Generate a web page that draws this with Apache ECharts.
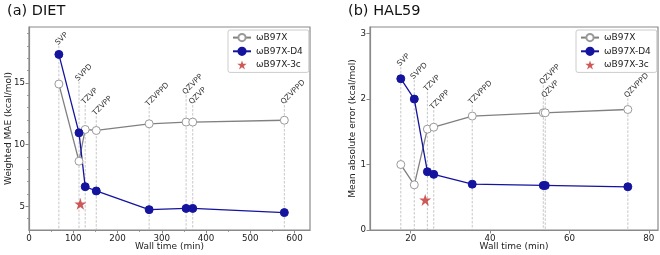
<!DOCTYPE html>
<html>
<head>
<meta charset="utf-8">
<script src="https://cdn.jsdelivr.net/npm/echarts@6/dist/echarts.min.js"></script>
<style>html,body{margin:0;padding:0;background:#fff}#c{width:660px;height:255px}</style>
</head>
<body>
<div id="c"></div>
<script>
// ---- data ----
const basisNames = ['SVP','SVPD','TZVP','TZVPP','TZVPPD','QZVPP','QZVP','QZVPPD'];
const seriesNames = ['ωB97X','ωB97X-D4','ωB97X-3c'];

// (a) DIET
const dietTime   = [67.5, 113, 127, 152, 271.5, 355, 370, 577];
const dietWB97X  = [14.9, 8.65, 11.22, 11.14, 11.68, 11.82, 11.82, 11.97];
const dietD4     = [17.3, 10.95, 6.59, 6.24, 4.73, 4.83, 4.83, 4.49];
const diet3c     = [[116, 5.2]];
const dietLabelY = [18.0, 15.1, 13.2, 12.3, 13.05, 14.0, 13.2, 13.2];
const dietXTicks = [0, 100, 200, 300, 400, 500, 600];
const dietXMinor = [50, 150, 250, 350, 450, 550];
const dietYTicks = [5, 10, 15];
const dietYMinor = [4, 6, 7, 8, 9, 11, 12, 13, 14, 16, 17, 18, 19];

// (b) HAL59
const halTime    = [17.5, 20.9, 24.2, 25.8, 35.5, 53.4, 53.9, 74.7];
const halWB97X   = [1.0, 0.69, 1.54, 1.57, 1.74, 1.79, 1.79, 1.84];
const halD4      = [2.31, 2.0, 0.89, 0.85, 0.70, 0.68, 0.68, 0.66];
const hal3c      = [[23.65, 0.46]];
const halLabelY  = [2.49, 2.29, 2.11, 1.83, 1.91, 2.21, 2.01, 2.01];
const halXTicks  = [20, 40, 60, 80];
const halYTicks  = [0, 1, 2, 3];

// ---- style ----
const FONT = 'DejaVu Sans';
const SPINE = '#8a8a8a';
const GRAY = '#808080';
const BLUE = '#14149e';
const RED = '#c0302e';
const STAR = 'path://M50,0 L61.2,34.5 L97.6,34.5 L68.2,55.9 L79.4,90.5 L50,69.1 L20.6,90.5 L31.8,55.9 L2.4,34.5 L38.8,34.5 Z';

const ext = [
  {xmin: 0, xmax: 635, ymin: 3.08, ymax: 19.52},
  {xmin: 9.74, xmax: 82.3, ymin: 0, ymax: 3.1},
  {xmin: 0, xmax: 635, ymin: 3.08, ymax: 19.52}
];
const boxA = {left: 29, top: 27, width: 281, height: 203};
const boxB = {left: 370, top: 27, width: 288, height: 203};

function pairs(xs, ys) { return xs.map((x, i) => [x, ys[i]]); }

const tickLabelStyle = {fontFamily: FONT, fontSize: 8.7, color: '#222'};
const nameStyle = {fontFamily: FONT, fontSize: 9, color: '#222'};

function mainAxis(g, ticks, name, gap, isX) {
  return {
    type: 'value', gridIndex: g,
    min: isX ? ext[g].xmin : ext[g].ymin, max: isX ? ext[g].xmax : ext[g].ymax,
    position: isX ? 'bottom' : 'left',
    axisLine: {show: true, onZero: false, lineStyle: {color: SPINE, width: 1.2}},
    axisTick: {show: true, length: 3.5, customValues: ticks, lineStyle: {color: SPINE, width: 1}},
    axisLabel: Object.assign({customValues: ticks, showMinLabel: true, showMaxLabel: true,
                              hideOverlap: false, margin: isX ? 4.5 : 4}, tickLabelStyle),
    splitLine: {show: false},
    name: name, nameLocation: 'middle', nameGap: gap, nameMoveOverlap: false,
    nameTextStyle: nameStyle
  };
}
function minorAxis(g, ticks, isX) {
  return {
    type: 'value', gridIndex: g,
    min: isX ? ext[g].xmin : ext[g].ymin, max: isX ? ext[g].xmax : ext[g].ymax,
    position: isX ? 'bottom' : 'left',
    axisLine: {show: false},
    axisTick: {show: true, length: 2, customValues: ticks, lineStyle: {color: SPINE, width: 0.8}},
    axisLabel: {show: false},
    splitLine: {show: false}
  };
}

function annotSeries(xi, yi, times, labelY) {
  const g = xi === 0 ? 0 : 1;
  return {
    type: 'custom', xAxisIndex: xi, yAxisIndex: yi, z: 1, silent: true,
    data: times.map((t, i) => [t, labelY[i], i]),
    renderItem: function (params, api) {
      const x = api.value(0), ly = api.value(1), idx = api.value(2);
      const top = api.coord([x, ly]);
      const bot = api.coord([x, ext[g].ymin]);
      return {
        type: 'group',
        children: [
          {type: 'line', shape: {x1: top[0], y1: top[1], x2: bot[0], y2: bot[1]},
           style: {stroke: '#b8b8b8', lineWidth: 0.8, lineDash: [2.5, 1.5]}},
          {type: 'text', x: top[0] + 0.5, y: top[1] + 1, rotation: Math.PI / 4,
           style: {text: basisNames[idx], x: 0, y: 0, align: 'left', verticalAlign: 'bottom',
                   fontFamily: FONT, fontSize: 7.5, fill: '#333'}}
        ]
      };
    }
  };
}

function lineSeries(name, xi, yi, data, isD4) {
  return {
    name: name, type: 'line', xAxisIndex: xi, yAxisIndex: yi, z: 3,
    data: data, symbol: 'circle', symbolSize: 8, showAllSymbol: true,
    lineStyle: {color: isD4 ? BLUE : GRAY, width: 1.3},
    itemStyle: isD4 ? {color: BLUE, borderColor: BLUE, borderWidth: 1}
                    : {color: '#ffffff', borderColor: '#9a9a9a', borderWidth: 1},
    emphasis: {disabled: true}, animation: false
  };
}
function starSeries(xi, yi, data) {
  return {
    name: seriesNames[2], type: 'scatter', xAxisIndex: xi, yAxisIndex: yi, z: 4,
    data: data, symbol: STAR, symbolSize: 12,
    itemStyle: {color: RED}, emphasis: {disabled: true}, animation: false
  };
}

function legend(left) {
  return {
    orient: 'vertical', left: left, top: 30,
    data: seriesNames, selectedMode: false,
    itemWidth: 18, itemHeight: 9, itemGap: 4.5,
    padding: [3, 6, 3, 4],
    borderColor: '#cccccc', borderWidth: 1, borderRadius: 2, backgroundColor: '#fff',
    textStyle: {fontFamily: FONT, fontSize: 9, color: '#222'}
  };
}

const option = {
  animation: false,
  backgroundColor: '#fff',
  title: [
    {text: '(a) DIET', left: 2, top: -1, textStyle: {fontFamily: FONT, fontSize: 14.5, fontWeight: 'normal', color: '#111'}},
    {text: '(b) HAL59', left: 343, top: -1, textStyle: {fontFamily: FONT, fontSize: 14.5, fontWeight: 'normal', color: '#111'}}
  ],
  grid: [
    Object.assign({show: true, borderColor: SPINE, borderWidth: 1.2, containLabel: false, outerBoundsMode: 'none'}, boxA),
    Object.assign({show: true, borderColor: SPINE, borderWidth: 1.2, containLabel: false, outerBoundsMode: 'none'}, boxB),
    Object.assign({show: false, containLabel: false, outerBoundsMode: 'none'}, boxA)
  ],
  legend: [legend(228), legend(576)],
  xAxis: [
    mainAxis(0, dietXTicks, 'Wall time (min)', 12.5, true),
    mainAxis(1, halXTicks, 'Wall time (min)', 12.5, true),
    minorAxis(2, dietXMinor, true)
  ],
  yAxis: [
    mainAxis(0, dietYTicks, 'Weighted MAE (kcal/mol)', 15.5, false),
    mainAxis(1, halYTicks, 'Mean absolute error (kcal/mol)', 12.5, false),
    minorAxis(2, dietYMinor, false)
  ],
  series: [
    annotSeries(0, 0, dietTime, dietLabelY),
    annotSeries(1, 1, halTime, halLabelY),
    lineSeries(seriesNames[0], 0, 0, pairs(dietTime, dietWB97X), false),
    lineSeries(seriesNames[1], 0, 0, pairs(dietTime, dietD4), true),
    starSeries(0, 0, diet3c),
    lineSeries(seriesNames[0], 1, 1, pairs(halTime, halWB97X), false),
    lineSeries(seriesNames[1], 1, 1, pairs(halTime, halD4), true),
    starSeries(1, 1, hal3c)
  ]
};

const chart = echarts.init(document.getElementById('c'), null, {renderer: 'canvas'});
chart.setOption(option);
</script>
</body>
</html>
